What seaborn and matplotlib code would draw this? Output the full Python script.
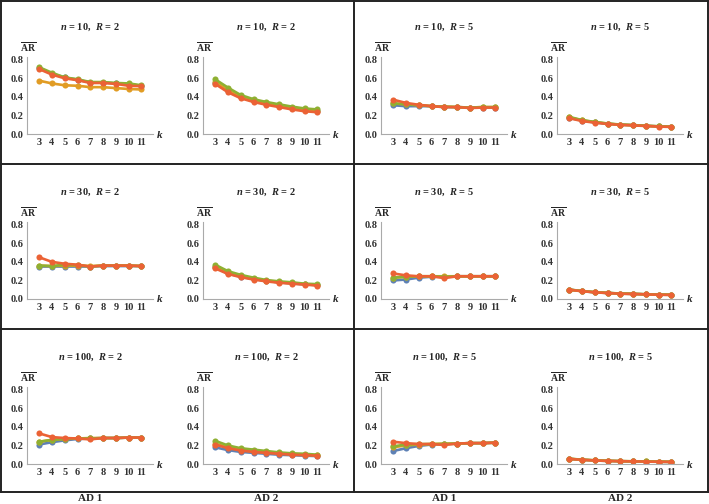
import pandas as pd
import matplotlib
matplotlib.use('Agg')
from matplotlib import pyplot as plt
import seaborn as sns


k = [3, 4, 5, 6, 7, 8, 9, 10, 11]
series = ['s1', 's2', 's3', 's4']
colors = ['#5E81B5', '#E19C24', '#8FB032', '#EB6235']
sizes = [10, 30, 100]
reps = [2, 5]
designs = ['AD 1', 'AD 2']

# n = 10
n10_r2_ad1 = {
    's1': [0.71, 0.65, 0.61, 0.585, 0.555, 0.555, 0.545, 0.535, 0.52],
    's2': [0.575, 0.545, 0.525, 0.52, 0.505, 0.505, 0.495, 0.485, 0.48],
    's3': [0.72, 0.66, 0.61, 0.59, 0.56, 0.56, 0.55, 0.545, 0.525],
    's4': [0.70, 0.64, 0.60, 0.58, 0.55, 0.55, 0.54, 0.52, 0.515],
}
n10_r2_ad2 = {
    's1': [0.55, 0.46, 0.395, 0.355, 0.325, 0.30, 0.275, 0.255, 0.245],
    's2': [0.565, 0.47, 0.40, 0.36, 0.33, 0.30, 0.28, 0.26, 0.25],
    's3': [0.59, 0.50, 0.42, 0.375, 0.345, 0.32, 0.295, 0.275, 0.265],
    's4': [0.54, 0.45, 0.385, 0.345, 0.315, 0.29, 0.265, 0.245, 0.235],
}
n10_r5_ad1 = {
    's1': [0.31, 0.30, 0.30, 0.30, 0.29, 0.29, 0.285, 0.285, 0.285],
    's2': [0.33, 0.32, 0.31, 0.30, 0.295, 0.29, 0.285, 0.29, 0.29],
    's3': [0.33, 0.32, 0.31, 0.30, 0.295, 0.29, 0.285, 0.29, 0.29],
    's4': [0.37, 0.335, 0.315, 0.30, 0.29, 0.29, 0.28, 0.285, 0.285],
}
n10_r5_ad2 = {
    's1': [0.175, 0.145, 0.125, 0.11, 0.10, 0.095, 0.088, 0.082, 0.078],
    's2': [0.18, 0.148, 0.128, 0.112, 0.10, 0.095, 0.088, 0.082, 0.078],
    's3': [0.185, 0.15, 0.13, 0.113, 0.102, 0.096, 0.089, 0.083, 0.079],
    's4': [0.17, 0.14, 0.122, 0.108, 0.098, 0.093, 0.086, 0.08, 0.076],
}

# n = 30
n30_r2_ad1 = {
    's1': [0.35, 0.35, 0.35, 0.35, 0.35, 0.355, 0.355, 0.355, 0.355],
    's2': [0.36, 0.355, 0.36, 0.36, 0.355, 0.36, 0.36, 0.36, 0.355],
    's3': [0.36, 0.355, 0.37, 0.365, 0.35, 0.36, 0.36, 0.36, 0.355],
    's4': [0.45, 0.40, 0.38, 0.37, 0.35, 0.36, 0.36, 0.36, 0.355],
}
n30_r2_ad2 = {
    's1': [0.34, 0.275, 0.24, 0.215, 0.195, 0.18, 0.168, 0.158, 0.15],
    's2': [0.35, 0.28, 0.245, 0.22, 0.195, 0.18, 0.17, 0.16, 0.15],
    's3': [0.37, 0.30, 0.26, 0.23, 0.205, 0.19, 0.18, 0.165, 0.16],
    's4': [0.33, 0.27, 0.235, 0.21, 0.19, 0.175, 0.165, 0.155, 0.145],
}
n30_r5_ad1 = {
    's1': [0.20, 0.21, 0.23, 0.24, 0.24, 0.245, 0.245, 0.245, 0.245],
    's2': [0.23, 0.24, 0.245, 0.245, 0.245, 0.245, 0.245, 0.245, 0.245],
    's3': [0.23, 0.24, 0.245, 0.245, 0.24, 0.245, 0.245, 0.245, 0.245],
    's4': [0.275, 0.255, 0.245, 0.245, 0.225, 0.245, 0.245, 0.245, 0.245],
}
n30_r5_ad2 = {
    's1': [0.10, 0.085, 0.072, 0.065, 0.058, 0.055, 0.05, 0.047, 0.045],
    's2': [0.10, 0.085, 0.073, 0.065, 0.058, 0.055, 0.05, 0.047, 0.045],
    's3': [0.102, 0.086, 0.074, 0.066, 0.059, 0.056, 0.051, 0.048, 0.046],
    's4': [0.10, 0.084, 0.072, 0.064, 0.057, 0.054, 0.05, 0.046, 0.044],
}

# n = 100
n100_r2_ad1 = {
    's1': [0.21, 0.235, 0.255, 0.27, 0.275, 0.28, 0.28, 0.285, 0.285],
    's2': [0.24, 0.26, 0.27, 0.275, 0.28, 0.28, 0.28, 0.285, 0.285],
    's3': [0.24, 0.26, 0.27, 0.275, 0.275, 0.28, 0.28, 0.285, 0.285],
    's4': [0.33, 0.29, 0.28, 0.275, 0.265, 0.28, 0.28, 0.285, 0.285],
}
n100_r2_ad2 = {
    's1': [0.18, 0.15, 0.13, 0.12, 0.11, 0.10, 0.095, 0.09, 0.085],
    's2': [0.22, 0.18, 0.15, 0.135, 0.125, 0.115, 0.105, 0.10, 0.095],
    's3': [0.25, 0.20, 0.17, 0.155, 0.14, 0.125, 0.115, 0.11, 0.10],
    's4': [0.21, 0.17, 0.145, 0.13, 0.12, 0.11, 0.10, 0.095, 0.09],
}
n100_r5_ad1 = {
    's1': [0.14, 0.17, 0.195, 0.21, 0.215, 0.22, 0.225, 0.225, 0.23],
    's2': [0.18, 0.20, 0.21, 0.215, 0.22, 0.22, 0.225, 0.225, 0.23],
    's3': [0.19, 0.21, 0.215, 0.215, 0.215, 0.22, 0.225, 0.225, 0.23],
    's4': [0.24, 0.225, 0.215, 0.215, 0.205, 0.22, 0.225, 0.225, 0.23],
}
n100_r5_ad2 = {
    's1': [0.055, 0.045, 0.038, 0.033, 0.03, 0.028, 0.026, 0.024, 0.022],
    's2': [0.056, 0.046, 0.039, 0.034, 0.031, 0.029, 0.027, 0.025, 0.023],
    's3': [0.057, 0.047, 0.04, 0.035, 0.031, 0.029, 0.027, 0.025, 0.023],
    's4': [0.055, 0.045, 0.038, 0.033, 0.03, 0.028, 0.026, 0.024, 0.022],
}

panels = {
    (10, 2, 'AD 1'): n10_r2_ad1, (10, 2, 'AD 2'): n10_r2_ad2,
    (10, 5, 'AD 1'): n10_r5_ad1, (10, 5, 'AD 2'): n10_r5_ad2,
    (30, 2, 'AD 1'): n30_r2_ad1, (30, 2, 'AD 2'): n30_r2_ad2,
    (30, 5, 'AD 1'): n30_r5_ad1, (30, 5, 'AD 2'): n30_r5_ad2,
    (100, 2, 'AD 1'): n100_r2_ad1, (100, 2, 'AD 2'): n100_r2_ad2,
    (100, 5, 'AD 1'): n100_r5_ad1, (100, 5, 'AD 2'): n100_r5_ad2,
}

sns.set_style('white')
plt.rcParams['font.family'] = ['Liberation Serif', 'DejaVu Serif']
plt.rcParams['font.weight'] = 'bold'
plt.rcParams['mathtext.fontset'] = 'custom'
plt.rcParams['mathtext.rm'] = 'Liberation Serif:bold'
plt.rcParams['mathtext.bf'] = 'Liberation Serif:bold'
plt.rcParams['mathtext.it'] = 'Liberation Serif:italic:bold'

W, H = 709, 504
fig = plt.figure(figsize=(W / 100, H / 100), dpi=100)

col_left = [27, 203, 381, 557]
row_bottom = [134, 299, 464]
ax_w, ax_h = 126, 77
axis_gray = '#AAAAAA'

for r, n in enumerate(sizes):
    for c in range(4):
        R = reps[c // 2]
        design = designs[c % 2]
        vals = panels[(n, R, design)]
        df = pd.DataFrame([
            {'k': kk, 'AR': v, 'series': s}
            for s in series for kk, v in zip(k, vals[s])
        ])
        left = col_left[c]
        bottom = row_bottom[r]
        ax = fig.add_axes([left / W, (H - bottom) / H, ax_w / W, ax_h / H])
        sns.lineplot(data=df, x='k', y='AR', hue='series', hue_order=series,
                     palette=colors, marker='o', markersize=4.4,
                     markeredgewidth=0, linewidth=1.9, legend=False,
                     sort=False, ax=ax)
        ax.set_xlim(2.05, 11.9)
        ax.set_ylim(0, 0.83)
        ax.set_xticks(k)
        ax.set_yticks([0.0, 0.2, 0.4, 0.6, 0.8])
        ax.set_yticklabels(['0.0', '0.2', '0.4', '0.6', '0.8'])
        ax.set_xlabel('')
        ax.set_ylabel('')
        for side in ['top', 'right']:
            ax.spines[side].set_visible(False)
        for side in ['left', 'bottom']:
            ax.spines[side].set_color(axis_gray)
            ax.spines[side].set_linewidth(0.8)
        ax.tick_params(axis='both', direction='in', length=2.5, width=0.6,
                       color=axis_gray, labelsize=7.5, labelcolor='#333333')
        ax.tick_params(axis='x', pad=3)
        ax.tick_params(axis='y', pad=2.5)
        for lab in ax.get_xticklabels() + ax.get_yticklabels():
            lab.set_fontweight('bold')
        ax.patch.set_alpha(0)

        # titles and axis labels
        cx = left + ax_w / 2
        fig.text(cx / W, 1 - (bottom - 107) / H,
                 r'$n$ = %d,  $R$ = %d' % (n, R),
                 ha='center', va='center', fontsize=7.5, fontweight='bold')
        fig.text((left + 1) / W, 1 - (bottom - 87) / H,
                 r'$\overline{\mathrm{AR}}$',
                 ha='center', va='center', fontsize=7)
        fig.text((left + ax_w + 7) / W, 1 - bottom / H, r'$k$',
                 ha='center', va='center', fontsize=8)

# bottom design labels
for c in range(4):
    cx = col_left[c] + ax_w / 2
    fig.text(cx / W, 1 - 494 / H, designs[c % 2], ha='center', va='top',
             fontsize=8, fontweight='bold')

# frame lines around the two groups
frame = dict(color='#222222', linewidth=1.4, transform=fig.transFigure)
for yy in [1, 163.5, 328.5, 492]:
    fig.add_artist(plt.Line2D([0, 1], [1 - yy / H, 1 - yy / H], **frame))
for xx in [1, 354, 708]:
    fig.add_artist(plt.Line2D([xx / W, xx / W], [1 - 492 / H, 1 - 1 / H],
                              **frame))

plt.savefig('out.png', dpi=100)
